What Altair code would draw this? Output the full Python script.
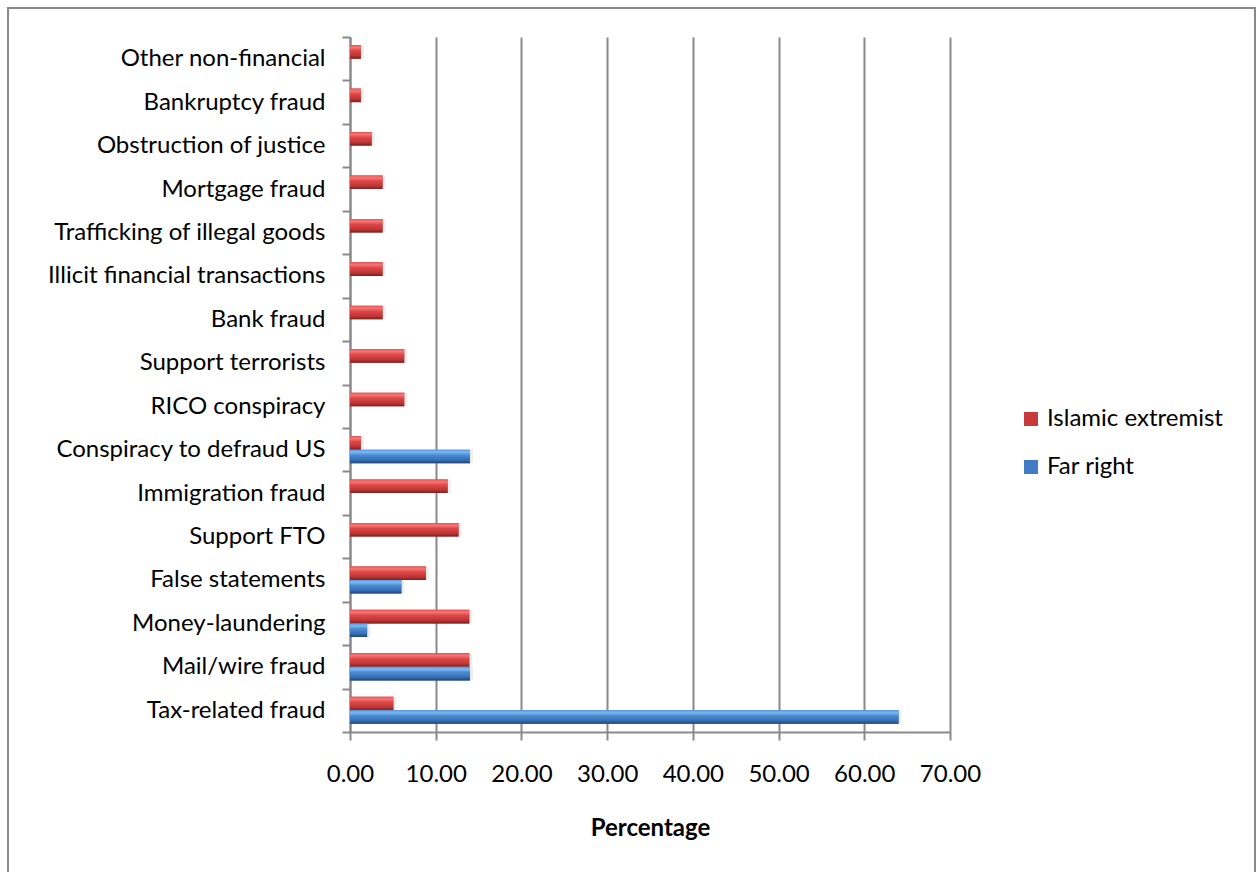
import altair as alt
import pandas as pd

categories = [
    "Other non-financial",
    "Bankruptcy fraud",
    "Obstruction of justice",
    "Mortgage fraud",
    "Trafficking of illegal goods",
    "Illicit financial transactions",
    "Bank fraud",
    "Support terrorists",
    "RICO conspiracy",
    "Conspiracy to defraud US",
    "Immigration fraud",
    "Support FTO",
    "False statements",
    "Money-laundering",
    "Mail/wire fraud",
    "Tax-related fraud",
]
islamic_extremist = [1.27, 1.27, 2.53, 3.80, 3.80, 3.80, 3.80, 6.33, 6.33,
                     1.27, 11.39, 12.66, 8.86, 13.92, 13.92, 5.06]
far_right = [None, None, None, None, None, None, None, None, None,
             14.0, None, None, 6.0, 2.0, 14.0, 64.0]
series = ["Islamic extremist", "Far right"]
x_ticks = [0, 10, 20, 30, 40, 50, 60, 70]

rows = []
for c, v in zip(categories, islamic_extremist):
    if v is not None:
        rows.append({"category": c, "series": series[0], "value": v})
for c, v in zip(categories, far_right):
    if v is not None:
        rows.append({"category": c, "series": series[1], "value": v})
df = pd.DataFrame(rows)

FONT = "Lato"
FS = 24
GRAY = "#898989"

red_grad = alt.Gradient(
    gradient="linear", x1=0, x2=0, y1=0, y2=1,
    stops=[
        alt.GradientStop(offset=0, color="#e65555"),
        alt.GradientStop(offset=0.18, color="#f77676"),
        alt.GradientStop(offset=0.4, color="#de4848"),
        alt.GradientStop(offset=0.75, color="#c03636"),
        alt.GradientStop(offset=1, color="#7e2020"),
    ],
)
blue_grad = alt.Gradient(
    gradient="linear", x1=0, x2=0, y1=0, y2=1,
    stops=[
        alt.GradientStop(offset=0, color="#5898de"),
        alt.GradientStop(offset=0.18, color="#7cbaf3"),
        alt.GradientStop(offset=0.4, color="#4b8bd2"),
        alt.GradientStop(offset=0.75, color="#3870b6"),
        alt.GradientStop(offset=1, color="#214575"),
    ],
)

x_enc = alt.X(
    "value:Q",
    scale=alt.Scale(domain=[0, 70], nice=False),
    axis=alt.Axis(
        values=x_ticks, format=".2f", title="Percentage",
        grid=True, gridColor=GRAY, gridWidth=2,
        domainColor=GRAY, domainWidth=2,
        tickColor=GRAY, tickWidth=2, tickSize=8,
        labelFont=FONT, labelFontSize=FS, labelColor="black", labelPadding=22,
        labelFlush=False, labelOverlap=False,
        titleFont=FONT, titleFontSize=FS, titleFontWeight="bold", titleColor="black",
        titlePadding=30,
    ),
)
y_enc = alt.Y(
    "category:N",
    sort=categories,
    scale=alt.Scale(domain=categories, paddingInner=0, paddingOuter=0),
    axis=alt.Axis(
        title=None, grid=False, tickBand="extent",
        domainColor=GRAY, domainWidth=2,
        tickColor=GRAY, tickWidth=2, tickSize=8,
        labelFont=FONT, labelFontSize=FS, labelColor="black", labelPadding=17,
        labelLimit=400,
    ),
)
yoff_enc = alt.YOffset(
    "series:N",
    scale=alt.Scale(domain=series, paddingInner=0, paddingOuter=0.6),
)

shadow = alt.Chart(df).mark_bar(color="#000000", opacity=0.07, xOffset=3, yOffset=3).encode(
    x=x_enc, y=y_enc, yOffset=yoff_enc,
)

base = alt.Chart(df).mark_bar().encode(
    x=x_enc, y=y_enc, yOffset=yoff_enc,
    color=alt.Color(
        "series:N",
        scale=alt.Scale(domain=series, range=["#c83a3a", "#3f7cc4"]),
        legend=alt.Legend(
            title=None, orient="none", legendX=669, legendY=370,
            symbolType="square", symbolSize=196, symbolStrokeWidth=0,
            labelFont=FONT, labelFontSize=FS, labelColor="black",
            labelOffset=4, rowPadding=24, labelLimit=300,
        ),
    ),
)

grad = alt.Chart(df).mark_bar().encode(
    x=x_enc, y=y_enc, yOffset=yoff_enc,
    fill=alt.condition(
        alt.datum.series == "Far right", alt.value(blue_grad), alt.value(red_grad)
    ),
)

border = alt.Chart(alt.Data(values=[{}])).mark_rect(
    fillOpacity=0, stroke=GRAY, strokeWidth=2
).encode(
    x=alt.value(-342), x2=alt.value(905), y=alt.value(-29), y2=alt.value(880),
)

chart = alt.layer(border, shadow, base, grad).properties(
    width=600, height=695,
    autosize=alt.AutoSizeParams(type="none"),
    padding={"left": 350, "top": 37, "right": 309, "bottom": 140},
    background="white",
).configure_view(stroke=None)

chart.save("out.html", embed_options={"renderer": "svg", "actions": False})
